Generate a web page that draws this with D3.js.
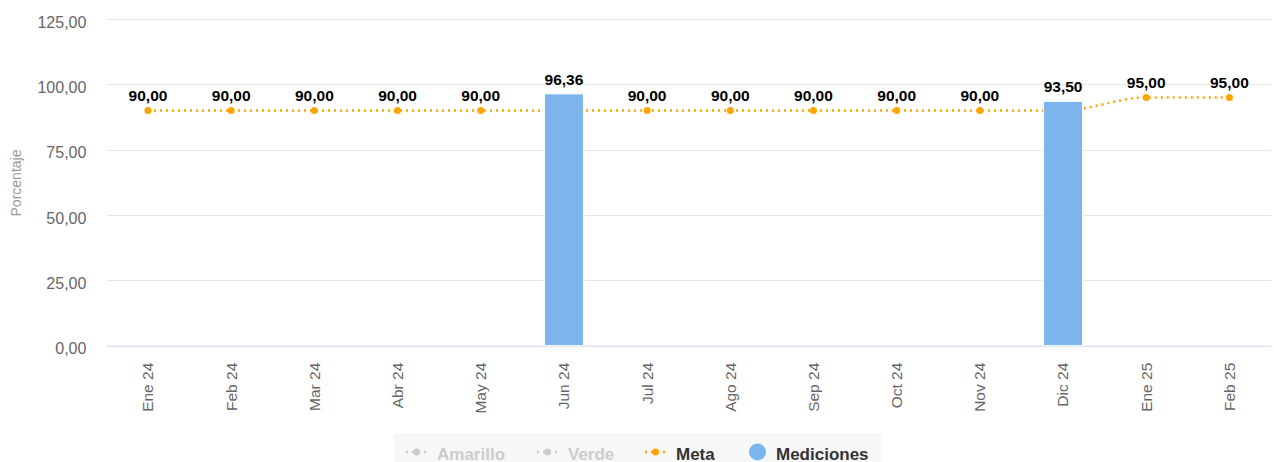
<!DOCTYPE html>
<html>
<head>
<meta charset="utf-8">
<script src="https://cdn.jsdelivr.net/npm/d3@7"></script>
<style>
  body { margin: 0; background: #fff; }
  svg { font-family: "Liberation Sans", Arial, sans-serif; display: block; }
</style>
</head>
<body>
<script>
// categories and values
var months = ["Ene 24", "Feb 24", "Mar 24", "Abr 24", "May 24", "Jun 24", "Jul 24",
              "Ago 24", "Sep 24", "Oct 24", "Nov 24", "Dic 24", "Ene 25", "Feb 25"];
var meta = [90, 90, 90, 90, 90, 90, 90, 90, 90, 90, 90, 90, 95, 95];
var mediciones = [null, null, null, null, null, 96.36, null, null, null, null, null, 93.5, null, null];
var yTicks = [0, 25, 50, 75, 100, 125];
var legendItems = [
  {name: "Amarillo", type: "line", visible: false},
  {name: "Verde", type: "line", visible: false},
  {name: "Meta", type: "line", visible: true},
  {name: "Mediciones", type: "column", visible: true}
];

var W = 1274, H = 462;
var margin = {top: 19, left: 106.4, right: 3, bottom: 116.3};
var width = W - margin.left - margin.right,
    height = H - margin.top - margin.bottom;

var fmt = function(v) { return d3.format(".2f")(v).replace(".", ","); };

var svg = d3.select("body").append("svg")
    .attr("width", W)
    .attr("height", H);

var g = svg.append("g")
    .attr("transform", "translate(" + margin.left + "," + margin.top + ")");

// scales
var x = d3.scaleBand().domain(months).range([0, width]);
var y = d3.scaleLinear().domain([0, 125]).range([height, 0]);
var cx = function(i) { return x(months[i]) + x.bandwidth() / 2; };

// gridlines
g.selectAll(".grid").data(yTicks.filter(function(d) { return d > 0; }))
  .enter().append("line")
    .attr("x1", 0).attr("x2", width)
    .attr("y1", function(d) { return Math.round(y(d)) + 0.5; })
    .attr("y2", function(d) { return Math.round(y(d)) + 0.5; })
    .attr("stroke", "#e6e6e6");

// y labels
g.selectAll(".ylab").data(yTicks)
  .enter().append("text")
    .attr("x", -20)
    .attr("y", function(d) { return y(d) + 8.5; })
    .attr("text-anchor", "end")
    .attr("fill", "#666")
    .style("font-size", "16px")
    .text(fmt);

// y title
svg.append("text")
    .attr("transform", "translate(21,183) rotate(-90)")
    .attr("text-anchor", "middle")
    .attr("fill", "#999")
    .style("font-size", "14px")
    .text("Porcentaje");

// x axis line
g.append("line")
    .attr("x1", 0).attr("x2", width)
    .attr("y1", height + 0.5).attr("y2", height + 0.5)
    .attr("stroke", "#ccd6eb");

// x labels
g.selectAll(".xlab").data(months)
  .enter().append("text")
    .attr("transform", function(d, i) {
      return "translate(" + cx(i) + "," + (height + 17) + ") rotate(-90)";
    })
    .attr("dy", "0.35em")
    .attr("text-anchor", "end")
    .attr("fill", "#666")
    .style("font-size", "15.5px")
    .text(function(d) { return d; });

// meta line
var line = d3.line()
    .x(function(d, i) { return cx(i); })
    .y(function(d) { return y(d); })
    .curve(d3.curveMonotoneX);

g.append("path")
    .datum(meta)
    .attr("d", line)
    .attr("fill", "none")
    .attr("stroke", "#FFA500")
    .attr("stroke-width", 2.5)
    .attr("stroke-dasharray", "2,4");

g.selectAll(".metaPt").data(meta)
  .enter().append("circle")
    .attr("cx", function(d, i) { return cx(i); })
    .attr("cy", function(d) { return y(d); })
    .attr("r", 3.5)
    .attr("fill", "#FFA500");

// bars
var barW = 39;
var bars = mediciones.map(function(v, i) { return {v: v, i: i}; })
    .filter(function(d) { return d.v != null; });

g.selectAll(".bar").data(bars)
  .enter().append("rect")
    .attr("x", function(d) { return cx(d.i) - barW / 2; })
    .attr("y", function(d) { return y(d.v); })
    .attr("width", barW)
    .attr("height", function(d) { return height - y(d.v); })
    .attr("fill", "#7cb5ec")
    .attr("stroke", "#fff")
    .attr("stroke-width", 1);

// data labels
function label(sel) {
  sel.attr("text-anchor", "middle")
    .attr("fill", "#000")
    .attr("stroke", "#fff")
    .attr("stroke-width", 2)
    .attr("paint-order", "stroke")
    .style("font-size", "15.5px")
    .style("font-weight", "bold");
}

g.selectAll(".metaLab").data(meta.map(function(v, i) { return {v: v, i: i}; })
    .filter(function(d) { return mediciones[d.i] == null; }))
  .enter().append("text")
    .attr("x", function(d) { return cx(d.i); })
    .attr("y", function(d) { return y(d.v) - 9; })
    .call(label)
    .text(function(d) { return fmt(d.v); });

g.selectAll(".barLab").data(bars)
  .enter().append("text")
    .attr("x", function(d) { return cx(d.i); })
    .attr("y", function(d) { return y(d.v) - 9; })
    .call(label)
    .text(function(d) { return fmt(d.v); });

// legend
var lg = svg.append("g");
lg.append("rect")
    .attr("x", 394).attr("y", 433)
    .attr("width", 487).attr("height", 40)
    .attr("fill", "#f7f7f7");

var legendX = [406, 537, 645, 749];
legendItems.forEach(function(d, k) {
  var col = d.visible ? (d.name === "Meta" ? "#FFA500" : "#7cb5ec") : "#cccccc";
  var item = lg.append("g").attr("transform", "translate(" + legendX[k] + ",452)");
  var tx;
  if (d.type === "line") {
    item.append("line")
        .attr("x1", 0).attr("x2", 21)
        .attr("stroke", col)
        .attr("stroke-width", 2.5)
        .attr("stroke-dasharray", "2,4");
    item.append("circle").attr("cx", 10.5).attr("r", 3.5).attr("fill", col);
    tx = 31;
  } else {
    item.append("circle").attr("cx", 8.5).attr("r", 8.5).attr("fill", col);
    tx = 27;
  }
  item.append("text")
      .attr("x", tx)
      .attr("y", 8)
      .attr("fill", d.visible ? "#333" : "#cccccc")
      .style("font-size", "17px")
      .style("font-weight", "bold")
      .text(d.name);
});
</script>
</body>
</html>
